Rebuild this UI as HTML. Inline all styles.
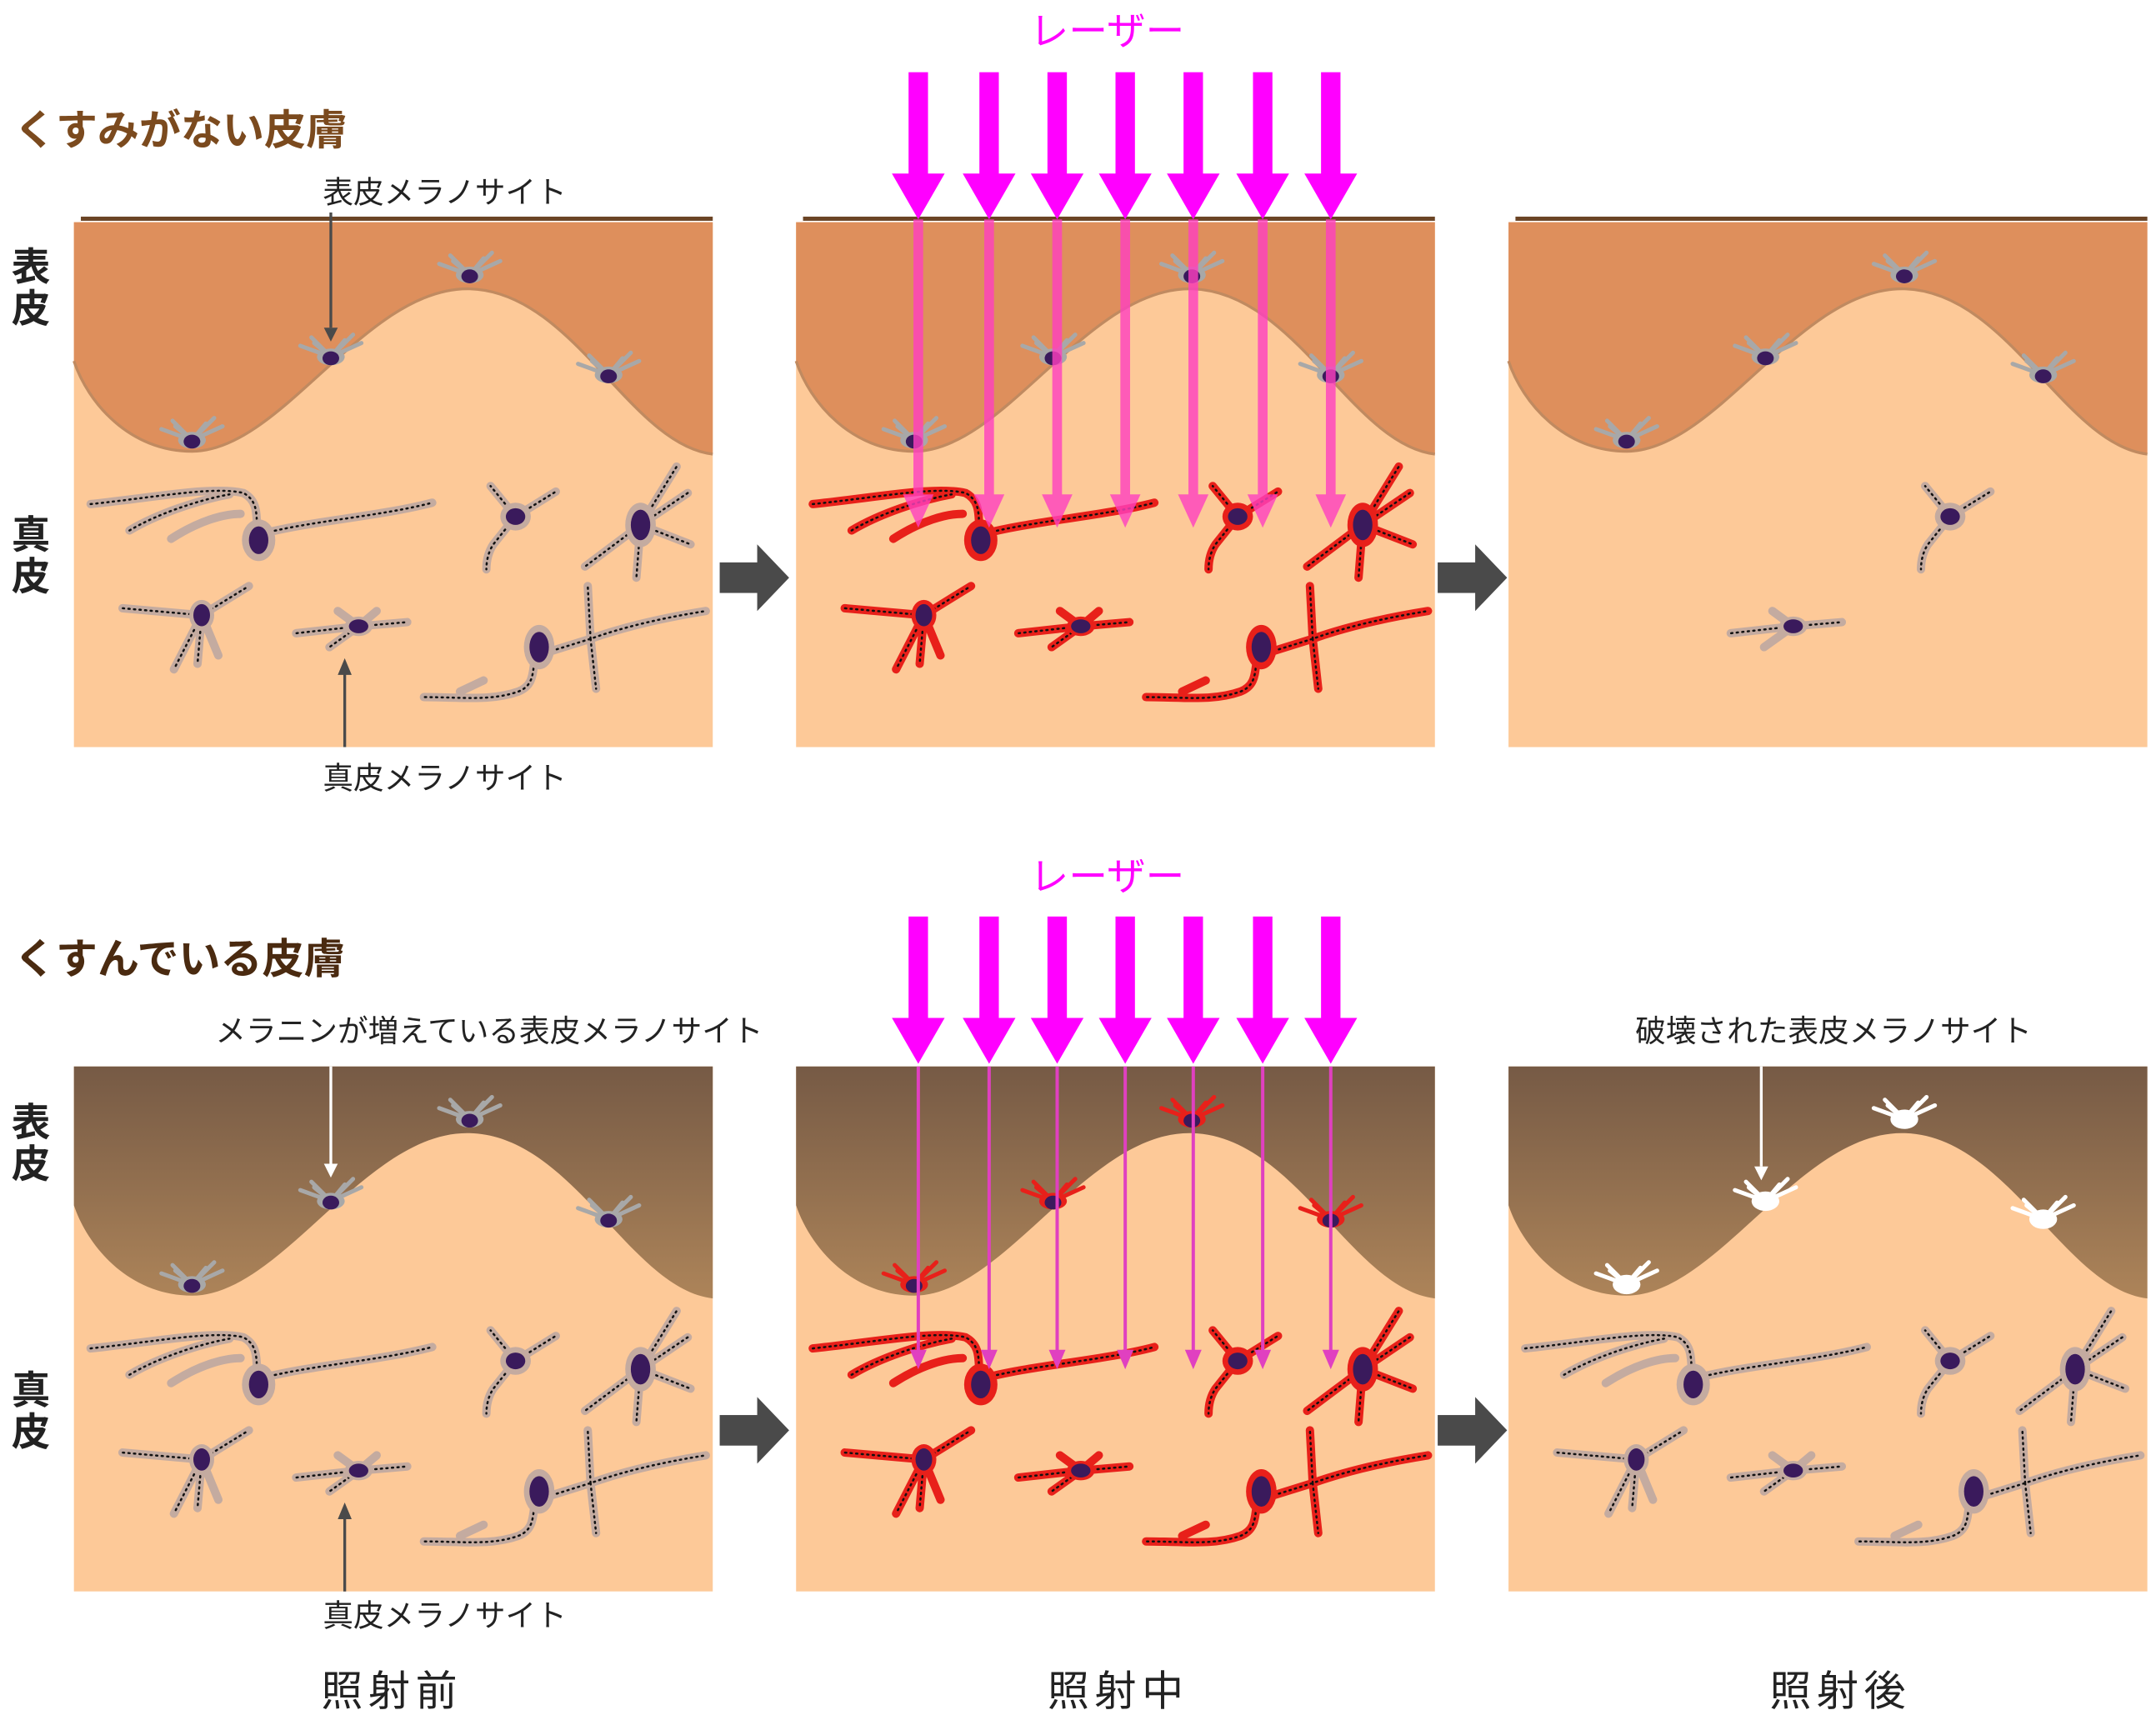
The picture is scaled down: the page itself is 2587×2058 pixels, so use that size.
<!DOCTYPE html>
<html><head><meta charset="utf-8"><style>
html,body{margin:0;padding:0;background:#fff;}
svg{display:block;}
text{font-family:"Liberation Sans","Noto Sans CJK JP",sans-serif;}
</style></head><body>
<svg width="2587" height="2058" viewBox="0 0 1552 1235" xmlns="http://www.w3.org/2000/svg">
<defs>
<linearGradient id="dk" x1="0" y1="0" x2="0" y2="1">
<stop offset="0" stop-color="#765a45"/><stop offset="1" stop-color="#ad8459"/></linearGradient>
<path id="epi" d="M0,0 H460 V167 C400,160 360,50 285,48 C210,46 150,165 85,165 C40,165 10,130 0,100 Z"/>
<g id="em">
<path d="M0,0 L-22,-8 M0,0 L-12,-10 M0,0 L10,-12 M0,0 L22,-10 M0,0 L-14,-14 M0,0 L16,-16" stroke="currentColor" stroke-width="3" stroke-linecap="round" fill="none"/>
<ellipse cx="0" cy="0" rx="10" ry="6" fill="currentColor"/>
<ellipse cx="0" cy="1" rx="6" ry="5" fill="#3a1a5c"/>
</g>
<g id="emw">
<path d="M0,0 L-22,-8 M0,0 L-12,-10 M0,0 L10,-12 M0,0 L22,-10 M0,0 L-14,-14 M0,0 L16,-16" stroke="#fff" stroke-width="3" stroke-linecap="round" fill="none"/>
<ellipse cx="0" cy="0" rx="10" ry="7" fill="#fff"/>
</g>
<g id="derm" fill="none" stroke-linecap="round">
<g stroke="currentColor" stroke-width="6">
<path d="M12,203 C60,198 100,190 122,195 C135,202 130,215 133,228 M133,225 C170,215 220,212 258,202 M40,222 C60,210 90,200 112,196 M70,228 C90,215 108,210 120,210"/>
<path d="M318,212 L300,190 M318,212 L347,194 M318,212 L302,232 C298,238 297,245 297,250"/>
<path d="M408,218 L434,176 M408,218 L442,195 M408,218 L444,232 M408,218 L368,248 M408,218 L405,256"/>
<path d="M92,283 L35,278 M92,283 L126,262 M92,283 L72,322 M92,283 L89,318 M92,283 L104,312"/>
<path d="M205,291 L160,296 M205,291 L240,288 M205,291 L184,306 M205,291 L190,280 M205,291 L218,280"/>
<path d="M335,306 C328,318 335,332 320,338 C300,345 280,342 252,342 M295,330 L278,338 M340,310 L372,300 C400,290 430,284 455,280 M372,300 L370,262 M372,300 L376,336"/>
</g>
<g stroke="#111" stroke-width="1.5" stroke-dasharray="1 3">
<path d="M12,203 C60,198 100,190 122,195 C135,202 130,215 133,228 M133,225 C170,215 220,212 258,202 M40,222 C60,210 90,200 112,196"/>
<path d="M318,212 L300,190 M318,212 L347,194 M318,212 L302,232 C298,238 297,245 297,250"/>
<path d="M408,218 L434,176 M408,218 L442,195 M408,218 L444,232 M408,218 L368,248 M408,218 L405,256"/>
<path d="M92,283 L35,278 M92,283 L126,262 M92,283 L72,322 M92,283 L89,318"/>
<path d="M205,291 L160,296 M205,291 L240,288 M205,291 L184,306"/>
<path d="M335,306 C328,318 335,332 320,338 C300,345 280,342 252,342 M340,310 L372,300 C400,290 430,284 455,280 M372,300 L370,262 M372,300 L376,336"/>
</g>
<g fill="currentColor" stroke="none">
<ellipse cx="133" cy="229" rx="12" ry="15"/><ellipse cx="318" cy="212" rx="11" ry="10"/>
<ellipse cx="408" cy="218" rx="11" ry="16"/><ellipse cx="92" cy="283" rx="9" ry="11"/>
<ellipse cx="205" cy="291" rx="10" ry="7"/><ellipse cx="335" cy="306" rx="11" ry="16"/>
</g>
<g fill="#3a1a5c" stroke="none">
<ellipse cx="133" cy="229" rx="7" ry="10"/><ellipse cx="318" cy="212" rx="7" ry="6"/>
<ellipse cx="408" cy="218" rx="7" ry="11"/><ellipse cx="92" cy="283" rx="6" ry="8"/>
<ellipse cx="205" cy="291" rx="7" ry="5"/><ellipse cx="335" cy="306" rx="7" ry="11"/>
</g>
</g>
<g id="derm3" fill="none" stroke-linecap="round">
<path d="M318,212 L300,190 M318,212 L347,194 M318,212 L302,232 C298,238 297,245 297,250 M205,291 L160,296 M205,291 L240,288 M205,291 L184,306 M205,291 L190,280" stroke="#c4aba0" stroke-width="6"/>
<path d="M318,212 L300,190 M318,212 L347,194 M318,212 L302,232 C298,238 297,245 297,250 M205,291 L160,296 M205,291 L240,288" stroke="#111" stroke-width="1.5" stroke-dasharray="1 3"/>
<ellipse cx="318" cy="212" rx="11" ry="10" fill="#c4aba0"/><ellipse cx="205" cy="291" rx="10" ry="7" fill="#c4aba0"/>
<ellipse cx="318" cy="212" rx="7" ry="6" fill="#3a1a5c"/><ellipse cx="205" cy="291" rx="7" ry="5" fill="#3a1a5c"/>
</g>
<g id="ems">
<use href="#em" x="285" y="38"/><use href="#em" x="185" y="97"/><use href="#em" x="385" y="110"/><use href="#em" x="85" y="157"/>
</g>
<g id="garrow"><rect x="0" y="-11" width="28" height="22" fill="#4a4a4a"/><path d="M27,-24 L50,0 L27,24 Z" fill="#4a4a4a"/></g>
<g id="laser"><rect x="-7" y="0" width="14" height="75" fill="#ff00ff"/><path d="M-19,73 L19,73 L0,106 Z" fill="#ff00ff"/></g>
<g id="pl"><rect x="-3.5" y="158" width="7" height="200"/><path d="M-11,356 L11,356 L0,380 Z"/></g>
<g id="pl2"><rect x="-1.2" y="768" width="2.4" height="205"/><path d="M-6,972 L6,972 L0,986 Z"/></g>
</defs>

<!-- titles -->
<text x="10" y="104" font-size="30" fill="#7b4a1e" font-weight="bold">くすみがない皮膚</text>
<text x="10" y="701" font-size="30" fill="#4a2a10" font-weight="bold">くすんでいる皮膚</text>
<g font-size="28" font-weight="bold" fill="#222">
<text x="8" y="202">表</text><text x="8" y="232">皮</text>
<text x="8" y="395">真</text><text x="8" y="425">皮</text>
<text x="8" y="818">表</text><text x="8" y="848">皮</text>
<text x="8" y="1011">真</text><text x="8" y="1041">皮</text>
</g>

<!-- row 1 -->
<g transform="translate(53,160)">
<rect width="460" height="378" fill="#fdc998"/><use href="#epi" fill="#de8f5c"/>
<path d="M0,100 C10,130 40,165 85,165 C150,165 210,46 285,48 C360,50 400,160 460,167" fill="none" stroke="#c08a60" stroke-width="2"/>
<use href="#ems" color="#a8a8a8"/><use href="#derm" color="#c4aba0"/>
</g>
<rect x="58" y="156" width="455" height="3" fill="#6b4425"/>
<g transform="translate(573,160)">
<rect width="460" height="378" fill="#fdc998"/><use href="#epi" fill="#de8f5c"/>
<path d="M0,100 C10,130 40,165 85,165 C150,165 210,46 285,48 C360,50 400,160 460,167" fill="none" stroke="#c08a60" stroke-width="2"/>
<use href="#ems" color="#a8a8a8"/><use href="#derm" color="#e8201a"/>
</g>
<rect x="578" y="156" width="455" height="3" fill="#6b4425"/>
<g transform="translate(1086,160)">
<rect width="460" height="378" fill="#fdc998"/><use href="#epi" fill="#de8f5c"/>
<path d="M0,100 C10,130 40,165 85,165 C150,165 210,46 285,48 C360,50 400,160 460,167" fill="none" stroke="#c08a60" stroke-width="2"/>
<use href="#ems" color="#a8a8a8"/><use href="#derm3"/>
</g>
<rect x="1091" y="156" width="455" height="3" fill="#6b4425"/>

<!-- row 2 -->
<g transform="translate(53,768)">
<rect width="460" height="378" fill="#fdc998"/><use href="#epi" fill="url(#dk)"/>
<use href="#ems" color="#a8a8a8"/><use href="#derm" color="#c4aba0"/>
</g>
<g transform="translate(573,768)">
<rect width="460" height="378" fill="#fdc998"/><use href="#epi" fill="url(#dk)"/>
<use href="#ems" color="#e8201a"/><use href="#derm" color="#e8201a"/>
</g>
<g transform="translate(1086,768)">
<rect width="460" height="378" fill="#fdc998"/><use href="#epi" fill="url(#dk)"/>
<use href="#emw" x="285" y="38"/><use href="#emw" x="185" y="97"/><use href="#emw" x="385" y="110"/><use href="#emw" x="85" y="157"/>
<use href="#derm" color="#c4aba0"/>
</g>

<!-- gray arrows -->
<use href="#garrow" x="518" y="416"/><use href="#garrow" x="1035" y="416"/>
<use href="#garrow" x="518" y="1030"/><use href="#garrow" x="1035" y="1030"/>

<!-- lasers -->
<text x="797" y="32" font-size="28" fill="#ff00ff" text-anchor="middle">レーザー</text>
<text x="797" y="641" font-size="28" fill="#ff00ff" text-anchor="middle">レーザー</text>
<g>
<use href="#laser" x="661" y="52"/><use href="#laser" x="712" y="52"/><use href="#laser" x="761" y="52"/><use href="#laser" x="810" y="52"/><use href="#laser" x="859" y="52"/><use href="#laser" x="909" y="52"/><use href="#laser" x="958" y="52"/>
<use href="#laser" x="661" y="660"/><use href="#laser" x="712" y="660"/><use href="#laser" x="761" y="660"/><use href="#laser" x="810" y="660"/><use href="#laser" x="859" y="660"/><use href="#laser" x="909" y="660"/><use href="#laser" x="958" y="660"/>
</g>
<g fill="#ff40c0" opacity="0.8">
<use href="#pl" x="661"/><use href="#pl" x="712"/><use href="#pl" x="761"/><use href="#pl" x="810"/><use href="#pl" x="859"/><use href="#pl" x="909"/><use href="#pl" x="958"/>
</g>
<g fill="#e040c0">
<use href="#pl2" x="661"/><use href="#pl2" x="712"/><use href="#pl2" x="761"/><use href="#pl2" x="810"/><use href="#pl2" x="859"/><use href="#pl2" x="909"/><use href="#pl2" x="958"/>
</g>

<!-- annotation labels -->
<g font-size="22" fill="#222" text-anchor="middle">
<text x="320" y="146">表皮メラノサイト</text>
<text x="320" y="568">真皮メラノサイト</text>
<text x="352" y="750">メラニンが増えている表皮メラノサイト</text>
<text x="320" y="1171">真皮メラノサイト</text>
<text x="1320" y="750">破壊された表皮メラノサイト</text>
</g>
<g stroke="#4a4a4a" stroke-width="2">
<line x1="238" y1="153" x2="238" y2="236"/><line x1="248" y1="484" x2="248" y2="538"/><line x1="248" y1="1092" x2="248" y2="1146"/>
</g>
<g fill="#4a4a4a"><path d="M233,236 L243,236 L238,246 Z"/><path d="M243,486 L253,486 L248,474 Z"/><path d="M243,1094 L253,1094 L248,1082 Z"/></g>
<g stroke="#fff" stroke-width="2"><line x1="238" y1="768" x2="238" y2="838"/><line x1="1268" y1="768" x2="1268" y2="840"/></g>
<g fill="#fff"><path d="M233,838 L243,838 L238,848 Z"/><path d="M1263,840 L1273,840 L1268,850 Z"/></g>

<g font-size="30" fill="#222" text-anchor="middle" letter-spacing="4">
<text x="282" y="1228">照射前</text><text x="805" y="1228">照射中</text><text x="1325" y="1228">照射後</text>
</g>
</svg>
</body></html>
